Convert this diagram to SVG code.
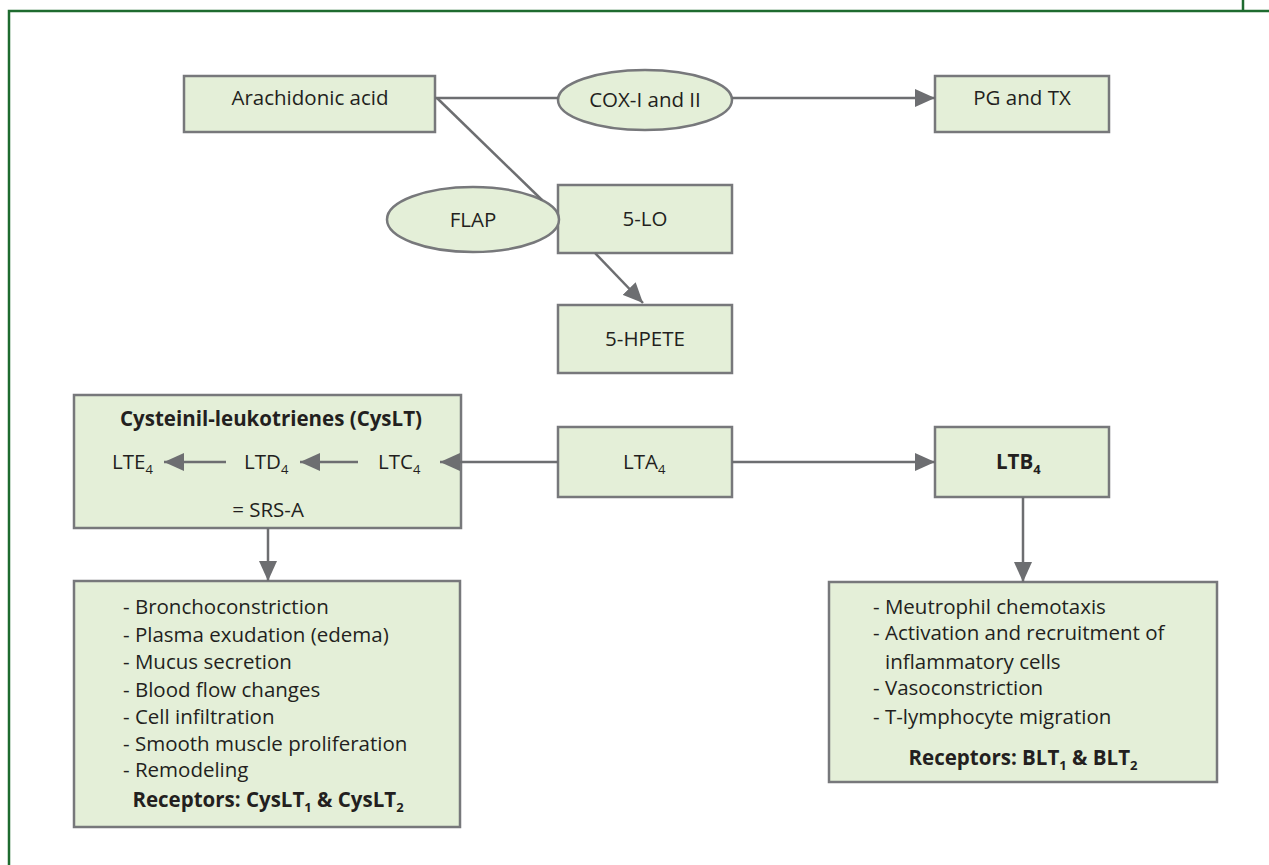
<svg xmlns="http://www.w3.org/2000/svg" width="1269" height="865" viewBox="0 0 1269 865">
<style>
.box{fill:#e4efd8;stroke:#77787b;stroke-width:2.5}
.t{font-family:"Open Sans","Liberation Sans",sans-serif;font-size:20.5px;fill:#231f20}
.c{text-anchor:middle}
.b{font-weight:bold}
.ln{stroke:#6d6e71;stroke-width:2.5;fill:none}
.frame{stroke:#1e6b2f;stroke-width:2.5;fill:none}
</style>
<defs>
<marker id="ah" viewBox="0 0 20 18" refX="20" refY="9" markerWidth="20" markerHeight="18" markerUnits="userSpaceOnUse" orient="auto">
<path d="M0,0 L20,9 L0,18 z" fill="#6d6e71"/>
</marker>
</defs>
<rect width="1269" height="865" fill="#ffffff"/>
<g id="frame">
<path class="frame" d="M9,865 V11 H1269"/>
<path class="frame" d="M1243,0 V11" stroke-width="3"/>
</g>
<g id="arachidonic">
<rect class="box" x="184" y="76" width="251" height="56"/>
<text class="t c" x="310" y="105">Arachidonic acid</text>
</g>
<g id="cox">
<ellipse class="box" cx="645" cy="100" rx="87" ry="30"/>
<text class="t c" x="645" y="107">COX-I and II</text>
</g>
<g id="pgtx">
<rect class="box" x="935" y="76" width="174" height="56"/>
<text class="t c" x="1022" y="105">PG and TX</text>
</g>
<g id="lo5">
<rect class="box" x="558" y="185" width="174" height="68"/>
<text class="t c" x="645" y="226">5-LO</text>
</g>
<g id="flap">
<ellipse class="box" cx="473" cy="219.5" rx="86" ry="32.5"/>
<text class="t c" x="473" y="227">FLAP</text>
</g>
<g id="hpete">
<rect class="box" x="558" y="305" width="174" height="68"/>
<text class="t c" x="645" y="346">5-HPETE</text>
</g>
<g id="cyslt">
<rect class="box" x="74" y="395" width="387" height="133"/>
<text class="t c b" x="271" y="426">Cysteinil-leukotrienes (CysLT)</text>
<text class="t" x="112" y="469">LTE<tspan font-size="13" dy="5">4</tspan></text>
<text class="t" x="244" y="469">LTD<tspan font-size="13" dy="5">4</tspan></text>
<text class="t" x="378" y="469">LTC<tspan font-size="13" dy="5">4</tspan></text>
<text class="t c" x="268" y="517">= SRS-A</text>
</g>
<g id="lta4">
<rect class="box" x="558" y="427" width="174" height="70"/>
<text class="t" x="623" y="469">LTA<tspan font-size="13" dy="5">4</tspan></text>
</g>
<g id="ltb4">
<rect class="box" x="935" y="427" width="174" height="70"/>
<text class="t b" x="996" y="469">LTB<tspan font-size="13" dy="5">4</tspan></text>
</g>
<g id="cysEffects">
<rect class="box" x="74" y="581" width="386" height="246"/>
<text class="t" x="123" y="614">- Bronchoconstriction</text>
<text class="t" x="123" y="642">- Plasma exudation (edema)</text>
<text class="t" x="123" y="669">- Mucus secretion</text>
<text class="t" x="123" y="697">- Blood flow changes</text>
<text class="t" x="123" y="724">- Cell infiltration</text>
<text class="t" x="123" y="751">- Smooth muscle proliferation</text>
<text class="t" x="123" y="777">- Remodeling</text>
<text class="t b c" x="268" y="807">Receptors: CysLT<tspan font-size="13" dy="5">1</tspan><tspan dy="-5"> &amp; CysLT</tspan><tspan font-size="13" dy="5">2</tspan></text>
</g>
<g id="ltbEffects">
<rect class="box" x="829" y="582" width="388" height="200"/>
<text class="t" x="873" y="614">- Meutrophil chemotaxis</text>
<text class="t" x="873" y="640">- Activation and recruitment of</text>
<text class="t" x="885" y="669">inflammatory cells</text>
<text class="t" x="873" y="695">- Vasoconstriction</text>
<text class="t" x="873" y="724">- T-lymphocyte migration</text>
<text class="t b c" x="1023" y="765">Receptors: BLT<tspan font-size="13" dy="5">1</tspan><tspan dy="-5"> &amp; BLT</tspan><tspan font-size="13" dy="5">2</tspan></text>
</g>
<g id="connectors">
<line class="ln" x1="435" y1="98" x2="558" y2="98"/>
<line class="ln" x1="732" y1="98" x2="935" y2="98" marker-end="url(#ah)"/>
<line class="ln" x1="437" y1="98" x2="542" y2="200"/>
<line class="ln" x1="595" y1="253" x2="643" y2="303" marker-end="url(#ah)"/>
<line class="ln" x1="558" y1="462" x2="440" y2="462" marker-end="url(#ah)"/>
<line class="ln" x1="732" y1="462" x2="935" y2="462" marker-end="url(#ah)"/>
<line class="ln" x1="226" y1="462" x2="164" y2="462" marker-end="url(#ah)"/>
<line class="ln" x1="358" y1="462" x2="300" y2="462" marker-end="url(#ah)"/>
<line class="ln" x1="268" y1="528" x2="268" y2="581" marker-end="url(#ah)"/>
<line class="ln" x1="1023" y1="497" x2="1023" y2="582" marker-end="url(#ah)"/>
</g>
</svg>
